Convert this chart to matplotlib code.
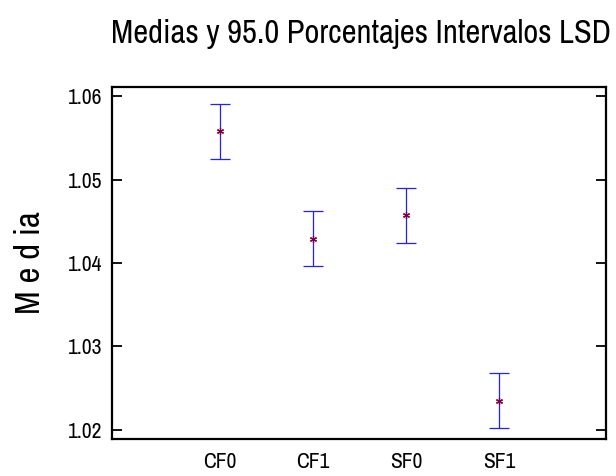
import matplotlib
matplotlib.use("Agg")
import matplotlib.pyplot as plt
from matplotlib import font_manager

groups = ["CF0", "CF1", "SF0", "SF1"]
means = [1.0558, 1.0429, 1.0457, 1.0235]
lsd_half = [0.0033, 0.0033, 0.0033, 0.0033]
yticks = [1.02, 1.03, 1.04, 1.05, 1.06]

# condensed Arial-like font if one is around
names = {f.name for f in font_manager.fontManager.ttflist}
narrow = "Liberation Sans"
for cand in ["Liberation Sans Narrow", "Archivo Narrow", "Roboto Condensed", "PT Sans Narrow"]:
    if cand in names:
        narrow = cand
        break

fig = plt.figure(figsize=(6.16, 4.76), dpi=100)
ax = fig.add_axes([112 / 616, 1 - 439 / 476, 494 / 616, 352 / 476])

x = list(range(len(groups)))
ax.errorbar(x, means, yerr=lsd_half, fmt="none", ecolor="#2020ff",
            elinewidth=0.9, capsize=7, capthick=0.9)
ax.plot(x, means, linestyle="none", marker=(6, 2, 0), markersize=5,
        color="#800040", markeredgewidth=0.9)

ax.set_xlim(-1.16, 4.15)
ax.set_ylim(1.0189, 1.0611)
ax.set_xticks(x)
ax.set_xticklabels(groups, fontfamily=narrow, fontsize=15.5)
ax.set_yticks(yticks)
ax.set_yticklabels([f"{v:.2f}" for v in yticks], fontfamily=narrow, fontsize=15.5)
ax.tick_params(axis="x", length=0, pad=9)
ax.tick_params(axis="y", direction="in", length=7, width=1.3, right=True, pad=7)
for s in ax.spines.values():
    s.set_linewidth(1.6)

ax.set_ylabel("M e d ia", fontfamily=narrow, fontsize=25, labelpad=16)
fig.text(361 / 616, 1 - 43 / 476, "Medias y 95.0 Porcentajes Intervalos LSD",
         ha="center", va="baseline", fontfamily=narrow, fontsize=23.5)

fig.savefig("out.png", dpi=100)
